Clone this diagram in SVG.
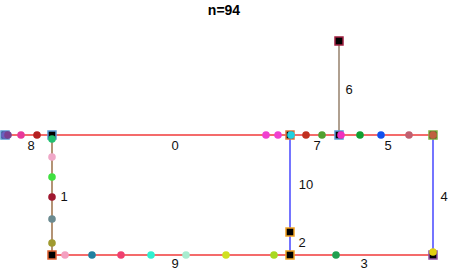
<svg xmlns="http://www.w3.org/2000/svg" width="449" height="270" viewBox="0 0 449 270">
<style>
.e{stroke-width:1.3;fill:none}
.r{stroke:#f03a3a}
.b{stroke:#2a2aff}
.br{stroke:#8b5a2b}
.t{stroke:#b0a090;stroke-width:2}
.sq{fill:#000;stroke-width:1.5}
.lbl{font-family:"Liberation Sans",Arial,sans-serif;font-size:13px;fill:#111;text-anchor:middle}
.title{font-family:"Liberation Sans",Arial,sans-serif;font-size:14px;font-weight:bold;fill:#000;text-anchor:middle}
circle{stroke:none}
</style>
<rect width="449" height="270" fill="#fff"/>
<text class="title" x="224" y="15">n=94</text>
<g id="connectors">
<line class="e r" x1="5" y1="135" x2="52" y2="135"/>
<line class="e r" x1="52" y1="135" x2="290" y2="135"/>
<line class="e r" x1="290" y1="135" x2="339" y2="135"/>
<line class="e r" x1="339" y1="135" x2="433" y2="135"/>
<line class="e t" x1="339" y1="41" x2="339" y2="135"/>
<line class="e br" x1="52" y1="135" x2="52" y2="255"/>
<line class="e r" x1="52" y1="255" x2="290" y2="255"/>
<line class="e r" x1="290" y1="255" x2="433" y2="255"/>
<line class="e b" x1="290" y1="135" x2="290" y2="232"/>
<line class="e b" x1="290" y1="232" x2="290" y2="255"/>
<line class="e b" x1="433" y1="135" x2="433" y2="255"/>
<text class="lbl" x="31" y="150">8</text>
<text class="lbl" x="175" y="150">0</text>
<text class="lbl" x="317" y="150">7</text>
<text class="lbl" x="388" y="150">5</text>
<text class="lbl" x="349" y="94">6</text>
<text class="lbl" x="64" y="201">1</text>
<text class="lbl" x="175" y="268">9</text>
<text class="lbl" x="364" y="268">3</text>
<text class="lbl" x="302" y="247">2</text>
<text class="lbl" x="306" y="189">10</text>
<text class="lbl" x="444" y="201">4</text>
</g>
<g id="dots">
<circle cx="21" cy="135" r="3.8" fill="#e8389a"/>
<circle cx="37" cy="135" r="3.8" fill="#b52020"/>
<circle cx="52" cy="157" r="3.8" fill="#f0a8c8"/>
<circle cx="52" cy="177" r="3.8" fill="#40e040"/>
<circle cx="52" cy="197" r="3.8" fill="#a01830"/>
<circle cx="52" cy="219" r="3.8" fill="#6a8a90"/>
<circle cx="52" cy="243" r="3.8" fill="#a09a30"/>
<circle cx="65" cy="255" r="3.8" fill="#f4a0c0"/>
<circle cx="92" cy="255" r="3.8" fill="#2080a0"/>
<circle cx="121" cy="255" r="3.8" fill="#f04070"/>
<circle cx="151" cy="255" r="3.8" fill="#30f0d0"/>
<circle cx="186" cy="255" r="3.8" fill="#a8ecd0"/>
<circle cx="226" cy="255" r="3.8" fill="#d0e020"/>
<circle cx="274" cy="255" r="3.8" fill="#a8d820"/>
<circle cx="336" cy="255" r="3.8" fill="#20a050"/>
<circle cx="266" cy="135" r="3.8" fill="#f040d0"/>
<circle cx="278" cy="135" r="3.8" fill="#f040d0"/>
<circle cx="306" cy="135" r="3.8" fill="#c03020"/>
<circle cx="322" cy="135" r="3.8" fill="#50a030"/>
<circle cx="360" cy="135" r="3.8" fill="#10a030"/>
<circle cx="381" cy="135" r="3.8" fill="#1050f0"/>
<circle cx="409" cy="135" r="3.8" fill="#c06070"/>
</g>
<g id="n-left"><rect class="sq" x="1" y="131" width="8" height="8" stroke="#5b9bd5"/><circle cx="5" cy="135" r="3.8" fill="#6a60c0"/><circle cx="8" cy="135" r="3.8" fill="#7b4090"/></g>
<g id="n-a"><rect class="sq" x="48" y="131" width="8" height="8" stroke="#5b9bd5"/><circle cx="52" cy="139" r="3.8" fill="#20c070"/></g>
<g id="n-b"><rect class="sq" x="286" y="131" width="8" height="8" stroke="#e07840"/><circle cx="291" cy="135" r="3.8" fill="#20d0e0"/></g>
<g id="n-c"><rect class="sq" x="335" y="131" width="8" height="8" stroke="#5b9bd5"/><circle cx="341" cy="135" r="3.8" fill="#f030c0"/></g>
<g id="n-d"><rect class="sq" x="429" y="131" width="8" height="8" stroke="#80b040"/><circle cx="433" cy="135" r="3.8" fill="#c06040"/></g>
<g id="n-top"><rect class="sq" x="335" y="37" width="8" height="8" stroke="#a02040"/></g>
<g id="n-e"><rect class="sq" x="48" y="251" width="8" height="8" stroke="#e06030"/></g>
<g id="n-f"><rect class="sq" x="286" y="251" width="8" height="8" stroke="#f0a020"/></g>
<g id="n-g"><rect class="sq" x="286" y="228" width="8" height="8" stroke="#f0a020"/></g>
<g id="n-h"><rect class="sq" x="429" y="251" width="8" height="8" stroke="#9050a0"/><circle cx="433" cy="252" r="3.8" fill="#e0d010"/></g>
</svg>
